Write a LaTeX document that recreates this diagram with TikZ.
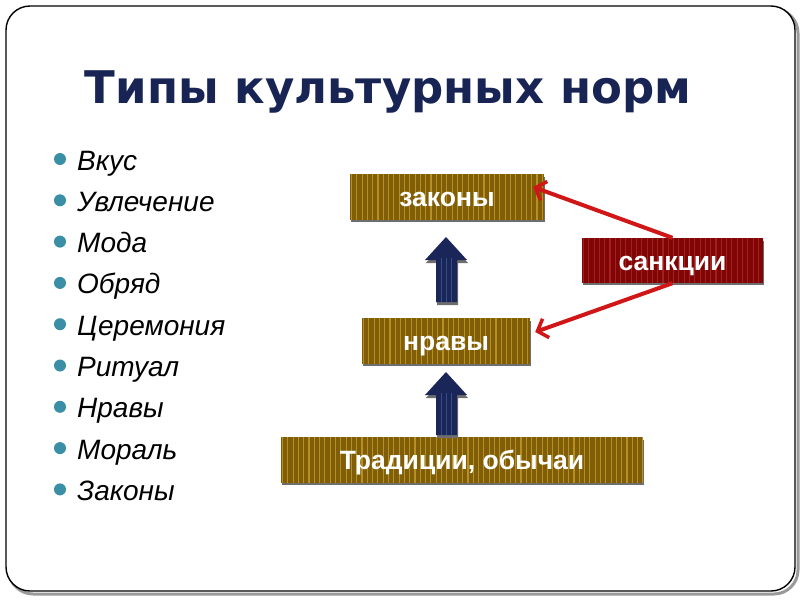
\documentclass[tikz,border=0pt]{standalone}
\usepackage{fontspec}
\setmainfont{Liberation Sans}
\newfontfamily\titlefont{DejaVu Sans}
\usetikzlibrary{arrows.meta}
\definecolor{navytitle}{RGB}{23,36,84}
\definecolor{olivebase}{RGB}{128,94,8}
\definecolor{olivestripe}{RGB}{184,144,34}
\definecolor{redbase}{RGB}{128,6,6}
\definecolor{redstripe}{RGB}{164,32,32}
\definecolor{arrnavy}{RGB}{26,38,88}
\definecolor{arrstripe}{RGB}{52,78,140}
\definecolor{bullet}{RGB}{58,143,166}
\definecolor{redline}{RGB}{208,22,22}
\definecolor{shadowgray}{RGB}{110,110,110}
\tikzset{
  stripes/.style={path picture={
    \foreach \i in {0,...,70}{
      \draw[#1, line width=1.1pt]
        ([xshift=\i*5.3pt+1.5pt]path picture bounding box.south west) --
        ([xshift=\i*5.3pt+1.5pt]path picture bounding box.north west);}}},
  tbox/.style={fill=olivebase, stripes=olivestripe, text=white,
    font=\bfseries\fontsize{26.5}{30}\selectfont, inner sep=0pt,
    text height=19pt, text depth=0pt, minimum height=46pt},
  rbox/.style={fill=redbase, stripes=redstripe, text=white,
    font=\bfseries\fontsize{26.5}{30}\selectfont, inner sep=0pt,
    text height=19pt, text depth=0pt, minimum height=45pt},
  item/.style={anchor=base west, font=\itshape\fontsize{28}{32}\selectfont, inner sep=0pt},
  dot/.style={circle, fill=bullet, minimum size=12pt, inner sep=0pt},
  redarr/.style={draw=redline, line width=4pt,
    -{Straight Barb[length=9pt,width=20pt,line width=3.5pt]}},
}
\begin{document}
\begin{tikzpicture}[x=1pt,y=-1pt]
\useasboundingbox (0,0) rectangle (800,600);
\fill[white] (0,0) rectangle (800,600);
% frame
\draw[shadowgray!70, line width=3pt, rounded corners=24pt] (9,9) rectangle (798,594);
\draw[black, fill=white, line width=1.4pt, rounded corners=24pt] (6,6) rectangle (795,591);
% title
\node[text=navytitle, font=\titlefont\bfseries\fontsize{45}{52}\selectfont, inner sep=0pt]
  (title) at (388,92) {Типы культурных норм};
% list
\foreach \t [count=\k] in {Вкус,Увлечение,Мода,Обряд,Церемония,Ритуал,Нравы,Мораль,Законы}{
  \node[dot] (b\k) at (60,{159+(\k-1)*41.3}) {};
  \node[item] (i\k) at (77,{170+(\k-1)*41.3}) {\t};
}
% box shadows
\fill[shadowgray] (351,177) rectangle (545,222);
\fill[shadowgray] (363,321) rectangle (531,366);
\fill[shadowgray] (282,440) rectangle (644,485);
\fill[shadowgray] (583,241) rectangle (764,285);
% boxes
\node[tbox, minimum width=194pt] (zak) at (447,197) {законы};
\node[tbox, minimum width=168pt] (nrav) at (446,341) {нравы};
\node[tbox, minimum width=362pt] (trad) at (462,460) {Традиции, обычаи};
\node[rbox, minimum width=181pt] (sank) at (672.5,260.5) {санкции};
% block arrows
\foreach \ty/\by/\hb in {237/302/260, 372/435/395}{
  \fill[shadowgray] (447,\ty+3) -- (468,\hb+3) -- (458,\hb+3) -- (458,\by+3) -- (437,\by+3) -- (437,\hb+3) -- (426,\hb+3) -- cycle;
  \fill[arrnavy] (446,\ty) -- (467,\hb) -- (457,\hb) -- (457,\by) -- (436,\by) -- (436,\hb) -- (425,\hb) -- cycle;
  \foreach \sx in {441,446,451}{
    \draw[arrstripe, line width=1pt] (\sx,\hb-2) -- (\sx,\by);
  }
}
% red arrows
\draw[redarr] (sank.north) -- ([xshift=-11pt,yshift=10pt]zak.east);
\draw[redarr] (sank.south) -- ([xshift=5pt,yshift=9pt]nrav.east);
\end{tikzpicture}
\end{document}
